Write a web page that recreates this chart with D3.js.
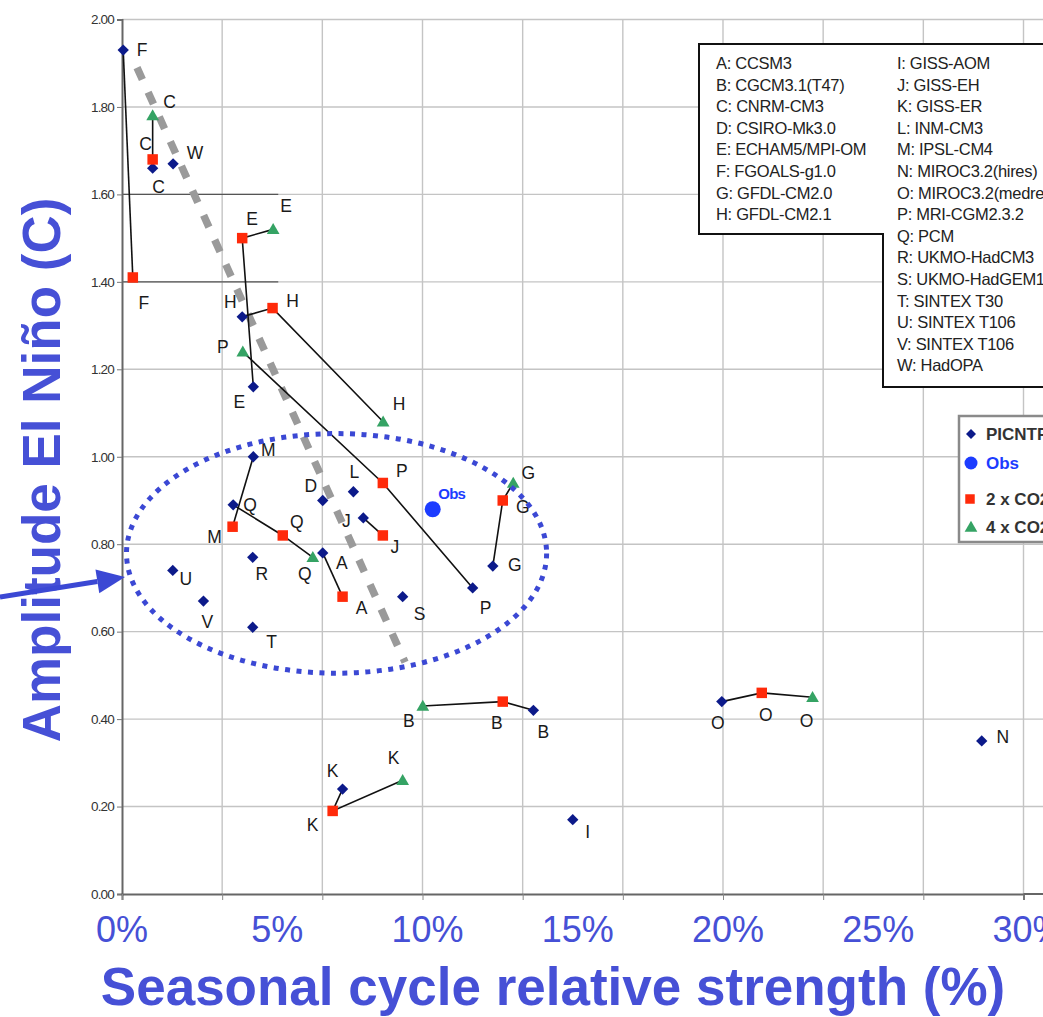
<!DOCTYPE html>
<html>
<head>
<meta charset="utf-8">
<script src="https://cdn.jsdelivr.net/npm/d3@7"></script>
<style>
  html, body { margin: 0; padding: 0; background: #fff; }
  svg { display: block; }
</style>
</head>
<body>
<svg id="chart" width="1043" height="1017"></svg>
<script>
// ---- data: seasonal cycle relative strength (%) vs El Niño amplitude (C) ----
const modelNames = [
  "A: CCSM3", "B: CGCM3.1(T47)", "C: CNRM-CM3", "D: CSIRO-Mk3.0",
  "E: ECHAM5/MPI-OM", "F: FGOALS-g1.0", "G: GFDL-CM2.0", "H: GFDL-CM2.1",
  "I: GISS-AOM", "J: GISS-EH", "K: GISS-ER", "L: INM-CM3", "M: IPSL-CM4",
  "N: MIROC3.2(hires)", "O: MIROC3.2(medres)", "P: MRI-CGM2.3.2", "Q: PCM",
  "R: UKMO-HadCM3", "S: UKMO-HadGEM1", "T: SINTEX T30", "U: SINTEX T106",
  "V: SINTEX T106", "W: HadOPA"
];

// [model, seasonal strength %, El Niño amplitude]
const picntrl = [
  ["A", 6.68, 0.78], ["B", 13.69, 0.42], ["C", 1.02, 1.66], ["D", 6.68, 0.90],
  ["E", 4.37, 1.16], ["F", 0.04, 1.93], ["G", 12.34, 0.75], ["H", 4.00, 1.32],
  ["I", 15.00, 0.17], ["J", 8.03, 0.86], ["K", 7.34, 0.24], ["L", 7.70, 0.92],
  ["M", 4.37, 1.00], ["N", 28.61, 0.35], ["O", 19.96, 0.44], ["P", 11.67, 0.70],
  ["Q", 3.70, 0.89], ["R", 4.35, 0.77], ["S", 9.34, 0.68], ["T", 4.35, 0.61],
  ["U", 1.69, 0.74], ["V", 2.71, 0.67], ["W", 1.70, 1.67]
];
const co2x2 = [
  ["A", 7.34, 0.68], ["B", 12.67, 0.44], ["C", 1.02, 1.68], ["E", 4.00, 1.50],
  ["F", 0.36, 1.41], ["G", 12.67, 0.90], ["H", 5.01, 1.34], ["J", 8.68, 0.82],
  ["K", 7.01, 0.19], ["M", 3.68, 0.84], ["O", 21.29, 0.46], ["P", 8.68, 0.94],
  ["Q", 5.35, 0.82]
];
const co2x4 = [
  ["B", 10.01, 0.43], ["C", 1.02, 1.78], ["E", 5.03, 1.52], ["G", 13.02, 0.94],
  ["H", 8.69, 1.08], ["K", 9.34, 0.26], ["O", 22.98, 0.45], ["P", 4.02, 1.24],
  ["Q", 6.35, 0.77]
];
const obs = [["Obs", 10.34, 0.88]];

const xTickLabels = [0, 5, 10, 15, 20, 25, 30];
const xGridValues = [0, 10/3, 20/3, 10, 40/3, 50/3, 20, 70/3, 80/3, 30];
const yTicks = [0, 0.2, 0.4, 0.6, 0.8, 1.0, 1.2, 1.4, 1.6, 1.8, 2.0];
const seriesLegend = ["PICNTRL", "Obs", "2 x CO2", "4 x CO2"];

// annotation shapes, in data units
const trendLine = [[0.5, 1.89], [9.42, 0.53]];
const focusEllipse = { cx: 7.14, cy: 0.779, rx: 6.99, ry: 0.274 };
const arrowLine = [[-4.06, 0.679], [0.1, 0.725]];

// ---- label placement (pixel nudges from each marker) ----
const labelNudge = {
  picntrl: {
    A: [19, 10], B: [10, 22], C: [6, 19], D: [-12, -14], E: [-14, 15], F: [19, 0],
    G: [22, -1], H: [-12, -15], I: [15, 12], J: [-17, 3], K: [-10, -18], L: [1, -20],
    M: [15, -7], N: [21, -4], O: [-4, 21], P: [13, 20], Q: [17, 0], R: [9, 17],
    S: [17, 17], T: [19, 15], U: [13, 9], V: [4, 21], W: [22, -11]
  },
  co2x2: {
    A: [19, 11], B: [-6, 21], C: [-7, -15], E: [10, -19], F: [11, 26], G: [20, 7],
    H: [20, -7], J: [12, 12], K: [-20, 14], M: [-18, 10], O: [4, 22], P: [19, -12],
    Q: [14, -13]
  },
  co2x4: {
    B: [-14, 15], C: [17, -14], E: [13, -23], G: [15, -10], H: [16, -18],
    K: [-9, -22], O: [-6, 24], P: [-20, -5], Q: [-8, 17]
  }
};

// ---- styles ----
const FONT = "'Liberation Sans', Arial, sans-serif";
const BLUE_TEXT = "#4650d6";
const NAVY = "#0c1a8a";
const RED = "#ff2a0a";
const GREEN = "#35a364";
const OBS_BLUE = "#1c3cff";
const GRID = "#c4c4c4";

const svg = d3.select("#chart");
const W = 1043, H = 1017;

const x = d3.scaleLinear().domain([0, 30]).range([122, 1023.5]);
const y = d3.scaleLinear().domain([0, 2]).range([894, 19.5]);

svg.append("rect").attr("width", W).attr("height", H).attr("fill", "#fff");

// grid
const grid = svg.append("g");
grid.selectAll("line.v").data(xGridValues.slice(1)).join("line")
  .attr("x1", d => x(d)).attr("x2", d => x(d))
  .attr("y1", y(2)).attr("y2", y(0))
  .attr("stroke", GRID).attr("stroke-width", 1.4);
grid.selectAll("line.h").data(yTicks.slice(1)).join("line")
  .attr("x1", x(0)).attr("x2", W)
  .attr("y1", d => y(d)).attr("y2", d => y(d))
  .attr("stroke", GRID).attr("stroke-width", 1.4);
// darker stubs on the 1.40 / 1.60 rows
grid.selectAll("line.stub").data([1.4, 1.6]).join("line")
  .attr("x1", x(0)).attr("x2", x(5.2))
  .attr("y1", d => y(d)).attr("y2", d => y(d))
  .attr("stroke", "#555").attr("stroke-width", 1.3);

// axes
const yAxis = d3.axisLeft(y).tickValues(yTicks).tickSize(5).tickPadding(3)
  .tickFormat(d3.format(".2f"));
const gy = svg.append("g").attr("transform", `translate(${x(0)},0)`).call(yAxis);
gy.select(".domain").attr("stroke", "#666").attr("stroke-width", 2);
gy.selectAll(".tick line").attr("stroke", "#777");
gy.selectAll(".tick text").attr("font-family", FONT)
  .attr("font-size", 13.5).attr("letter-spacing", "-0.8").attr("fill", "#333");

const xAxis = d3.axisBottom(x).tickValues(xGridValues).tickSize(6).tickFormat("");
const gx = svg.append("g").attr("transform", `translate(0,${y(0)})`).call(xAxis);
gx.select(".domain").attr("stroke", "#666").attr("stroke-width", 2);
gx.selectAll(".tick line").attr("stroke", "#888");
svg.append("line").attr("x1", x(30)).attr("x2", W).attr("y1", y(0)).attr("y2", y(0))
  .attr("stroke", "#666").attr("stroke-width", 2);

// legend of model names (L-shaped box)
const legTop = 44, legLeft = 699, legStep = 21.6;
const col1Bottom = 234, col2Left = 883, col2Bottom = 387;
svg.append("path")
  .attr("d", `M${W + 5},${legTop} L${legLeft},${legTop} L${legLeft},${col1Bottom} L${col2Left},${col1Bottom} L${col2Left},${col2Bottom} L${W + 5},${col2Bottom}`)
  .attr("fill", "#fff").attr("stroke", "#111").attr("stroke-width", 2);
const legText = svg.append("g")
  .attr("font-family", FONT)
  .attr("font-size", 16.5).attr("letter-spacing", "-0.3").attr("fill", "#222");
legText.selectAll("text").data(modelNames).join("text")
  .attr("x", (d, i) => i < 8 ? 716 : 897)
  .attr("y", (d, i) => legTop + 25 + (i < 8 ? i : i - 8) * legStep)
  .text(d => d);

// trend line (thick grey dashes)
svg.append("line")
  .attr("x1", x(trendLine[0][0])).attr("y1", y(trendLine[0][1]))
  .attr("x2", x(trendLine[1][0])).attr("y2", y(trendLine[1][1]))
  .attr("stroke", "#9a9a9a").attr("stroke-width", 7.5).attr("stroke-dasharray", "13,14");

// connectors: control -> 2xCO2 -> 4xCO2 for each model
const byModel = new Map();
picntrl.forEach(([m, a, b]) => byModel.set(m, [[a, b]]));
co2x2.forEach(([m, a, b]) => byModel.get(m).push([a, b]));
co2x4.forEach(([m, a, b]) => byModel.get(m).push([a, b]));
const line = d3.line().x(d => x(d[0])).y(d => y(d[1]));
svg.append("g").selectAll("path").data([...byModel.values()].filter(p => p.length > 1)).join("path")
  .attr("d", line).attr("fill", "none").attr("stroke", "#111").attr("stroke-width", 1.6);

// markers
svg.append("g").selectAll("path").data(picntrl).join("path")
  .attr("d", d3.symbol().type(d3.symbolSquare).size(64)())
  .attr("transform", d => `translate(${x(d[1])},${y(d[2])}) rotate(45)`)
  .attr("fill", NAVY);
svg.append("g").selectAll("path").data(co2x2).join("path")
  .attr("d", d3.symbol().type(d3.symbolSquare).size(110)())
  .attr("transform", d => `translate(${x(d[1])},${y(d[2])})`)
  .attr("fill", RED);
svg.append("g").selectAll("path").data(co2x4).join("path")
  .attr("d", d3.symbol().type(d3.symbolTriangle).size(70)())
  .attr("transform", d => `translate(${x(d[1])},${y(d[2]) + 1})`)
  .attr("fill", GREEN);
svg.append("g").selectAll("circle").data(obs).join("circle")
  .attr("cx", d => x(d[1])).attr("cy", d => y(d[2])).attr("r", 8)
  .attr("fill", OBS_BLUE);

// point labels
const labels = svg.append("g")
  .attr("font-family", FONT)
  .attr("font-size", 17.5).attr("fill", "#1a1a1a")
  .attr("text-anchor", "middle").attr("dominant-baseline", "central");
[["picntrl", picntrl], ["co2x2", co2x2], ["co2x4", co2x4]].forEach(([key, arr]) => {
  labels.append("g").selectAll("text").data(arr).join("text")
    .attr("x", d => x(d[1]) + labelNudge[key][d[0]][0])
    .attr("y", d => y(d[2]) + labelNudge[key][d[0]][1])
    .text(d => d[0]);
});
svg.append("text")
  .attr("x", x(obs[0][1]) + 19).attr("y", y(obs[0][2]) - 16)
  .attr("text-anchor", "middle").attr("dominant-baseline", "central")
  .attr("font-family", FONT)
  .attr("font-size", 15).attr("font-weight", "bold").attr("letter-spacing", "-0.8")
  .attr("fill", OBS_BLUE).text("Obs");

// series legend
const sl = svg.append("g");
sl.append("rect").attr("x", 959).attr("y", 416).attr("width", 100).attr("height", 126)
  .attr("fill", "#fff").attr("stroke", "#8a8a8a").attr("stroke-width", 2.5);
const slRows = [434, 463, 499, 527];
sl.append("path").attr("d", d3.symbol().type(d3.symbolSquare).size(50)())
  .attr("transform", `translate(971,${slRows[0]}) rotate(45)`).attr("fill", NAVY);
sl.append("circle").attr("cx", 971).attr("cy", slRows[1]).attr("r", 6.5).attr("fill", OBS_BLUE);
sl.append("path").attr("d", d3.symbol().type(d3.symbolSquare).size(90)())
  .attr("transform", `translate(970,${slRows[2]})`).attr("fill", RED);
sl.append("path").attr("d", d3.symbol().type(d3.symbolTriangle).size(70)())
  .attr("transform", `translate(971,${slRows[3] + 1})`).attr("fill", GREEN);
sl.selectAll("text").data(seriesLegend).join("text")
  .attr("x", 986).attr("y", (d, i) => slRows[i])
  .attr("dominant-baseline", "central")
  .attr("font-family", FONT)
  .attr("font-size", 17).attr("font-weight", "bold")
  .attr("fill", (d, i) => i === 1 ? OBS_BLUE : "#333")
  .text(d => d);

// dotted ellipse around the cluster
svg.append("ellipse")
  .attr("cx", x(focusEllipse.cx)).attr("cy", y(focusEllipse.cy))
  .attr("rx", x(focusEllipse.rx) - x(0)).attr("ry", y(0) - y(focusEllipse.ry))
  .attr("fill", "none").attr("stroke", "#3b48d4").attr("stroke-width", 5)
  .attr("stroke-dasharray", "5,6.5");

// axis titles
svg.append("text")
  .attr("transform", "translate(60,470) rotate(-90)")
  .attr("text-anchor", "middle")
  .attr("font-family", FONT)
  .attr("font-size", 53).attr("font-weight", "bold").attr("fill", BLUE_TEXT)
  .text("Amplitude El Niño (C)");

// arrow pointing at the cluster
const a0 = [x(arrowLine[0][0]), y(arrowLine[0][1])];
const a1 = [x(arrowLine[1][0]), y(arrowLine[1][1])];
const ang = Math.atan2(a1[1] - a0[1], a1[0] - a0[0]);
const headLen = 28, headHalf = 12;
const base = [a1[0] - headLen * Math.cos(ang), a1[1] - headLen * Math.sin(ang)];
svg.append("line").attr("x1", a0[0]).attr("y1", a0[1]).attr("x2", base[0]).attr("y2", base[1])
  .attr("stroke", "#3b48d4").attr("stroke-width", 5);
svg.append("path")
  .attr("d", `M${a1[0]},${a1[1]} L${base[0] - headHalf * Math.sin(ang)},${base[1] + headHalf * Math.cos(ang)} L${base[0] + headHalf * Math.sin(ang)},${base[1] - headHalf * Math.cos(ang)} Z`)
  .attr("fill", "#3b48d4");

svg.append("g").selectAll("text").data(xTickLabels).join("text")
  .attr("x", d => x(d) + (d === 0 ? 0 : 5)).attr("y", 942)
  .attr("text-anchor", "middle")
  .attr("font-family", FONT)
  .attr("font-size", 36).attr("fill", BLUE_TEXT)
  .text(d => d + "%");

svg.append("text")
  .attr("x", 553).attr("y", 1005)
  .attr("text-anchor", "middle")
  .attr("font-family", FONT)
  .attr("font-size", 53).attr("font-weight", "bold").attr("fill", BLUE_TEXT)
  .text("Seasonal cycle relative strength (%)");
</script>
</body>
</html>
